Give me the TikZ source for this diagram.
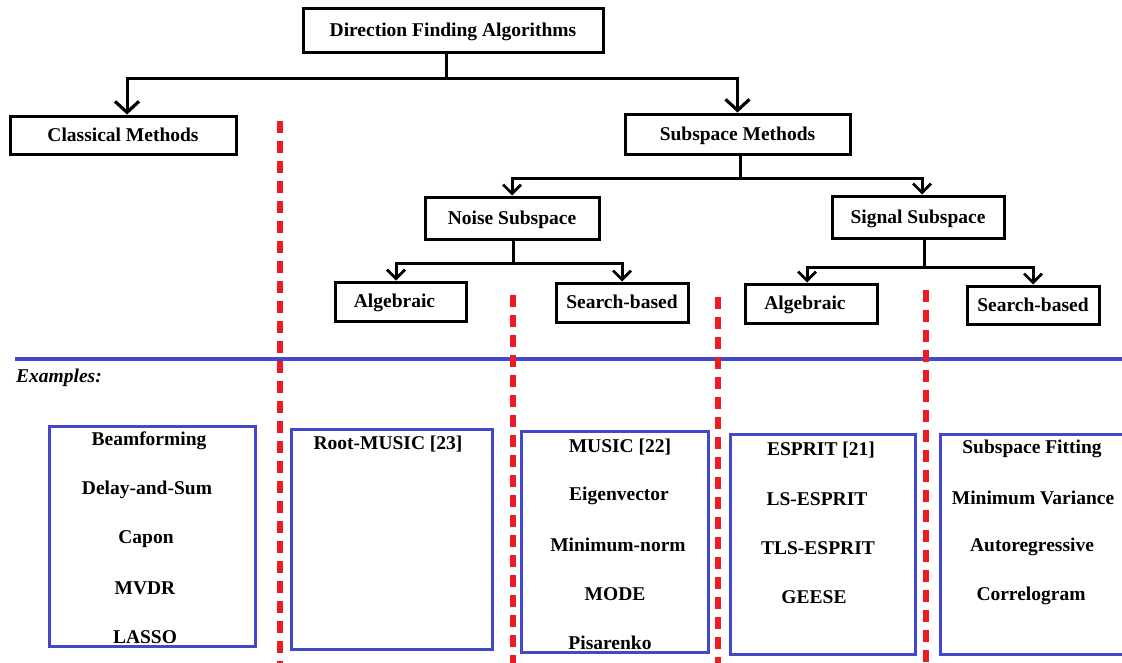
\documentclass[tikz,border=0pt]{standalone}
\usepackage{fontspec}
\setmainfont{Liberation Serif}
\usetikzlibrary{arrows.meta}
\definecolor{sepred}{RGB}{237,28,36}
\definecolor{exblue}{RGB}{66,72,204}
\tikzset{
  catbox/.style={draw=black, line width=3pt, rectangle, inner sep=0pt, text height=14pt, text depth=2pt, font=\fontsize{19.5}{22}\selectfont\bfseries},
  link/.style={draw=black, line width=3pt},
  bigtip/.style={-{Straight Barb[length=11pt,width=24pt,line width=3.2pt]}},
  smalltip/.style={-{Straight Barb[length=9pt,width=18pt,line width=2.8pt]}},
  separator/.style={draw=sepred, line width=6pt, dash pattern=on 12pt off 8pt},
  exframe/.style={draw=exblue, line width=3pt},
  extext/.style={inner sep=0pt, font=\fontsize{19.5}{22}\selectfont\bfseries},
}
\begin{document}
\begin{tikzpicture}[x=1pt,y=-1pt]
\clip (0,0) rectangle (1122,662);
\fill[white] (0,0) rectangle (1122,662);

% hierarchy boxes
\node[catbox, minimum width=300pt, minimum height=44pt] (dfa) at (453,30) {Direction Finding Algorithms};
\node[catbox, minimum width=226pt, minimum height=38pt] (classical) at (123,135) {Classical Methods};
\node[catbox, minimum width=225pt, minimum height=40pt] (subspace) at (737.5,134) {Subspace Methods};
\node[catbox, minimum width=174pt, minimum height=42pt] (noise) at (512,218) {Noise Subspace};
\node[catbox, minimum width=172pt, minimum height=42pt] (signal) at (918,217) {Signal Subspace};
\node[catbox, minimum width=131pt, minimum height=39pt] (nalg) at (400.5,301.5) {\hspace*{-12pt}Algebraic};
\node[catbox, minimum width=132pt, minimum height=39pt] (nsearch) at (622,302.5) {Search-based};
\node[catbox, minimum width=132pt, minimum height=39pt] (salg) at (811,303.5) {\hspace*{-12pt}Algebraic};
\node[catbox, minimum width=132pt, minimum height=38pt] (ssearch) at (1033,305) {Search-based};

% tree connectors
\draw[link] ([xshift=-7pt]dfa.south) -- ++(0,25) coordinate (rootfork);
\draw[link, bigtip] (rootfork) -| ([xshift=4pt]classical.north);
\draw[link, bigtip] (rootfork) -| (subspace.north);
\draw[link] ([xshift=2.5pt]subspace.south) -- ++(0,23) coordinate (subfork);
\draw[link, smalltip] (subfork) -| (noise.north);
\draw[link, smalltip] (subfork) -| ([xshift=4pt]signal.north);
\draw[link] ([xshift=1pt]noise.south) -- ++(0,23) coordinate (noisefork);
\draw[link, smalltip] (noisefork) -| ([xshift=-4.5pt]nalg.north);
\draw[link, smalltip] (noisefork) -| (nsearch.north);
\draw[link] ([xshift=6pt]signal.south) -- ++(0,28) coordinate (signalfork);
\draw[link, smalltip] (signalfork) -| ([xshift=-4pt]salg.north);
\draw[link, smalltip] (signalfork) -| (ssearch.north);

% examples rule
\coordinate (rulestart) at (15,359);
\coordinate (ruleend) at (1125,359);
\draw[draw=exblue, line width=3.5pt] (rulestart) -- (ruleend);
\node[anchor=west, inner sep=0pt, font=\fontsize{19.5}{22}\selectfont\bfseries\itshape] (examples) at (16,378) {Examples:};

% example frames
\draw[exframe] (49,426) rectangle (255,646);
\draw[exframe] (291,429) rectangle (492,649);
\draw[exframe] (521,431) rectangle (708,652);
\draw[exframe] (730,434) rectangle (915,654);
\draw[exframe] (940,434) rectangle (1140,654);

% classical examples
\node[extext] (beam) at (149,441) {Beamforming};
\node[extext] (das) at (147,490) {Delay-and-Sum};
\node[extext] (capon) at (146,539) {Capon};
\node[extext] (mvdr) at (145,588) {MVDR};
\node[extext] (lasso) at (145,637) {LASSO};

% noise subspace, algebraic
\node[extext] (rootmusic) at (388,444) {Root-MUSIC [23]};

% noise subspace, search-based
\node[extext] (music) at (620,447) {MUSIC [22]};
\node[extext] (eigen) at (619,496) {Eigenvector};
\node[extext] (minnorm) at (618,545) {Minimum-norm};
\node[extext] (mode) at (615,594) {MODE};
\node[extext] (pisarenko) at (610,643) {Pisarenko};

% signal subspace, algebraic
\node[extext] (esprit) at (821,450) {ESPRIT [21]};
\node[extext] (lsesprit) at (817,499) {LS-ESPRIT};
\node[extext] (tlsesprit) at (818,548) {TLS-ESPRIT};
\node[extext] (geese) at (814,597) {GEESE};

% signal subspace, search-based
\node[extext] (subfit) at (1032,449) {Subspace Fitting};
\node[extext] (minvar) at (1033,498) {Minimum Variance};
\node[extext] (autoreg) at (1032,547) {Autoregressive};
\node[extext] (correlo) at (1031,596) {Correlogram};

% category separators
\coordinate (sepA) at (280,121);
\coordinate (sepB) at (513,295);
\coordinate (sepC) at (718,297);
\coordinate (sepD) at (926,290);
\draw[separator] (sepA) -- (sepA |- 0,670);
\draw[separator] (sepB) -- (sepB |- 0,670);
\draw[separator] (sepC) -- (sepC |- 0,670);
\draw[separator] (sepD) -- (sepD |- 0,670);
\end{tikzpicture}
\end{document}
